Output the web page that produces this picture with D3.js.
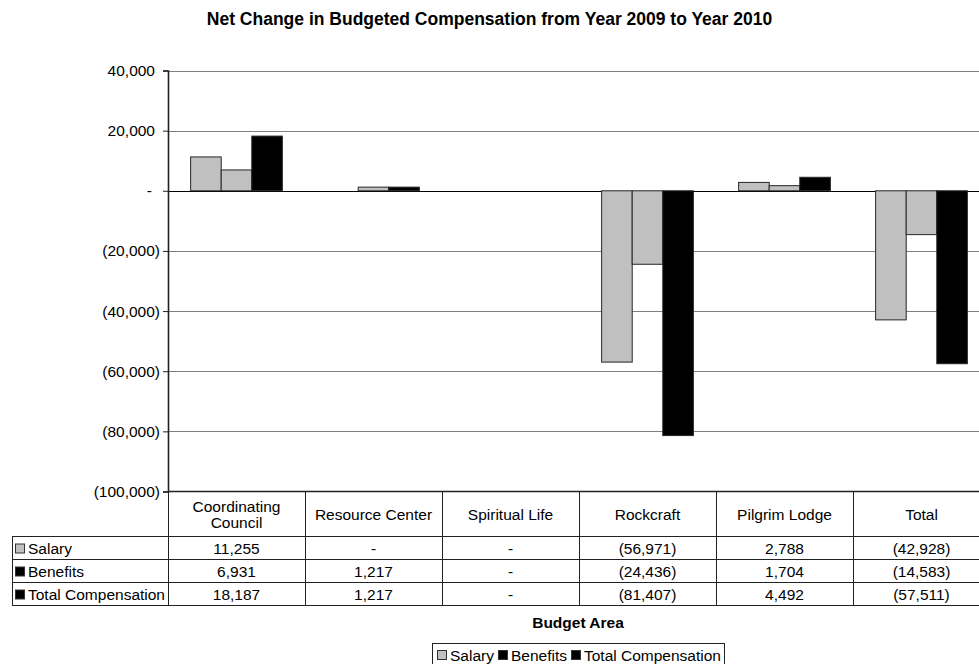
<!DOCTYPE html>
<html>
<head>
<meta charset="utf-8">
<script src="https://cdn.jsdelivr.net/npm/d3@7"></script>
<style>
  html, body { margin: 0; padding: 0; background: #fff; }
  svg { display: block; font-family: "Liberation Sans", Arial, sans-serif; }
</style>
</head>
<body>
<svg id="chart" width="979" height="664"></svg>
<script>
// ---- data ----
const categories = ["Coordinating Council", "Resource Center", "Spiritual Life", "Rockcraft", "Pilgrim Lodge", "Total"];
const categoryLabelLines = [["Coordinating", "Council"], ["Resource Center"], ["Spiritual Life"], ["Rockcraft"], ["Pilgrim Lodge"], ["Total"]];
const seriesNames = ["Salary", "Benefits", "Total Compensation"];
const salary = [11255, 0, 0, -56971, 2788, -42928];
const benefits = [6931, 1217, 0, -24436, 1704, -14583];
const totalCompensation = [18187, 1217, 0, -81407, 4492, -57511];
const yTicks = [40000, 20000, 0, -20000, -40000, -60000, -80000, -100000];
const barColors = ["#C0C0C0", "#C0C0C0", "#000000"];
const legendColors = ["#C0C0C0", "#000000", "#000000"];
const titleText = "Net Change in Budgeted Compensation from Year 2009 to Year 2010";
const xAxisTitle = "Budget Area";

const seriesValues = [salary, benefits, totalCompensation];

// ---- layout ----
const svg = d3.select("#chart");
const plotLeft = 168, plotRight = 990, plotTop = 70.5, plotBottom = 491.5;
const tableLeft = 12;
const rowH = 23;
const headerBottom = 536.5;
const FS = 15.5;

const fmt = v => v === 0 ? "-" : (v < 0 ? "(" + d3.format(",")(-v) + ")" : d3.format(",")(v));

const y = d3.scaleLinear().domain([-100000, 40000]).range([plotBottom, plotTop]);
const x0 = d3.scaleBand().domain(categories).range([plotLeft, plotRight]).paddingInner(0).paddingOuter(0);
const x1 = d3.scaleBand().domain(seriesNames).range([0, x0.bandwidth()]).paddingInner(0).paddingOuter(0.74);

// title
svg.append("text")
  .attr("x", 489.5).attr("y", 25)
  .attr("text-anchor", "middle")
  .attr("font-weight", "bold")
  .attr("font-size", 17.5)
  .text(titleText);

// gridlines
svg.append("g").selectAll("line")
  .data(yTicks.filter(t => t !== 0 && t !== -100000))
  .join("line")
  .attr("x1", plotLeft).attr("x2", plotRight)
  .attr("y1", d => Math.round(y(d)) + 0.5).attr("y2", d => Math.round(y(d)) + 0.5)
  .attr("stroke", "#808080").attr("stroke-width", 1);

// zero line
svg.append("line")
  .attr("x1", plotLeft).attr("x2", plotRight)
  .attr("y1", Math.round(y(0)) + 0.5).attr("y2", Math.round(y(0)) + 0.5)
  .attr("stroke", "#000").attr("stroke-width", 1);

// bars
const groups = svg.append("g").selectAll("g")
  .data(categories)
  .join("g")
  .attr("transform", d => `translate(${x0(d)},0)`);

groups.selectAll("rect")
  .data((c, ci) => seriesNames.map((s, si) => ({ s, si, v: seriesValues[si][ci] })).filter(d => d.v !== 0))
  .join("rect")
  .attr("x", d => x1(d.s))
  .attr("width", x1.bandwidth())
  .attr("y", d => y(Math.max(0, d.v)))
  .attr("height", d => Math.abs(y(d.v) - y(0)))
  .attr("fill", d => barColors[d.si])
  .attr("stroke", "#262626")
  .attr("stroke-width", 1);

// y axis
const yAxis = d3.axisLeft(y).tickValues(yTicks).tickFormat(fmt).tickSize(5).tickPadding(3);
const ag = svg.append("g").attr("transform", `translate(${plotLeft},0)`).call(yAxis);
ag.select(".domain").attr("stroke", "#222").attr("stroke-width", 1.6);
ag.selectAll(".tick line").attr("stroke", "#222");
ag.selectAll(".tick text")
  .attr("font-size", FS)
  .attr("font-family", "Liberation Sans, Arial, sans-serif")
  .attr("fill", "#000")
  .attr("x", d => d > 0 ? -13 : (d === 0 ? -16 : -8));

// bottom border of plot area
svg.append("line")
  .attr("x1", plotLeft).attr("x2", plotRight)
  .attr("y1", plotBottom).attr("y2", plotBottom)
  .attr("stroke", "#222").attr("stroke-width", 1.6);

// ---- data table ----
const table = svg.append("g").attr("shape-rendering", "crispEdges");
const rowTops = seriesNames.map((s, i) => headerBottom + i * rowH);
const tableBottom = headerBottom + seriesNames.length * rowH;

[headerBottom, ...rowTops.slice(1), tableBottom].forEach(yy => {
  table.append("line").attr("x1", tableLeft).attr("x2", plotRight)
    .attr("y1", yy).attr("y2", yy).attr("stroke", "#222");
});
table.append("line").attr("x1", tableLeft + 0.5).attr("x2", tableLeft + 0.5)
  .attr("y1", headerBottom).attr("y2", tableBottom).attr("stroke", "#222");
categories.forEach(c => {
  table.append("line").attr("x1", Math.round(x0(c)) + 0.5).attr("x2", Math.round(x0(c)) + 0.5)
    .attr("y1", plotBottom).attr("y2", tableBottom).attr("stroke", "#222");
});
table.append("line").attr("x1", plotRight - 0.5).attr("x2", plotRight - 0.5)
  .attr("y1", plotBottom).attr("y2", tableBottom).attr("stroke", "#222");

// header labels
categories.forEach((c, i) => {
  const lines = categoryLabelLines[i];
  const cx = x0(c) + x0.bandwidth() / 2;
  const midY = (plotBottom + headerBottom) / 2;
  const lh = 16;
  lines.forEach((ln, li) => {
    svg.append("text")
      .attr("x", cx)
      .attr("y", midY + (li - (lines.length - 1) / 2) * lh + 6)
      .attr("text-anchor", "middle")
      .attr("font-size", FS)
      .text(ln);
  });
});

// rows
seriesNames.forEach((s, si) => {
  const top = rowTops[si];
  svg.append("rect")
    .attr("x", 15.5).attr("y", top + 7.5)
    .attr("width", 9).attr("height", 9)
    .attr("fill", legendColors[si])
    .attr("stroke", "#333").attr("stroke-width", 1);
  svg.append("text")
    .attr("x", 28).attr("y", top + 17.5)
    .attr("font-size", FS)
    .text(s);
  categories.forEach((c, ci) => {
    svg.append("text")
      .attr("x", x0(c) + x0.bandwidth() / 2)
      .attr("y", top + 17.5)
      .attr("text-anchor", "middle")
      .attr("font-size", FS)
      .text(fmt(seriesValues[si][ci]));
  });
});

// x axis title
svg.append("text")
  .attr("x", (plotLeft + plotRight) / 2 - 1)
  .attr("y", 627.5)
  .attr("text-anchor", "middle")
  .attr("font-weight", "bold")
  .attr("font-size", FS)
  .text(xAxisTitle);

// ---- legend ----
const legend = svg.append("g");
const legendBox = legend.append("rect")
  .attr("x", 432.5).attr("y", 643.5).attr("height", 25)
  .attr("fill", "#fff").attr("stroke", "#222").attr("stroke-width", 1);
let lx = 437;
seriesNames.forEach((s, si) => {
  legend.append("rect")
    .attr("x", lx + 0.5).attr("y", 650.5)
    .attr("width", 9).attr("height", 9)
    .attr("fill", legendColors[si])
    .attr("stroke", "#333").attr("stroke-width", 1);
  const t = legend.append("text")
    .attr("x", lx + 13).attr("y", 660.5)
    .attr("font-size", FS)
    .text(s);
  lx = lx + 13 + t.node().getComputedTextLength() + 4;
});
legendBox.attr("width", 292);
legendBox.lower();
</script>
</body>
</html>
